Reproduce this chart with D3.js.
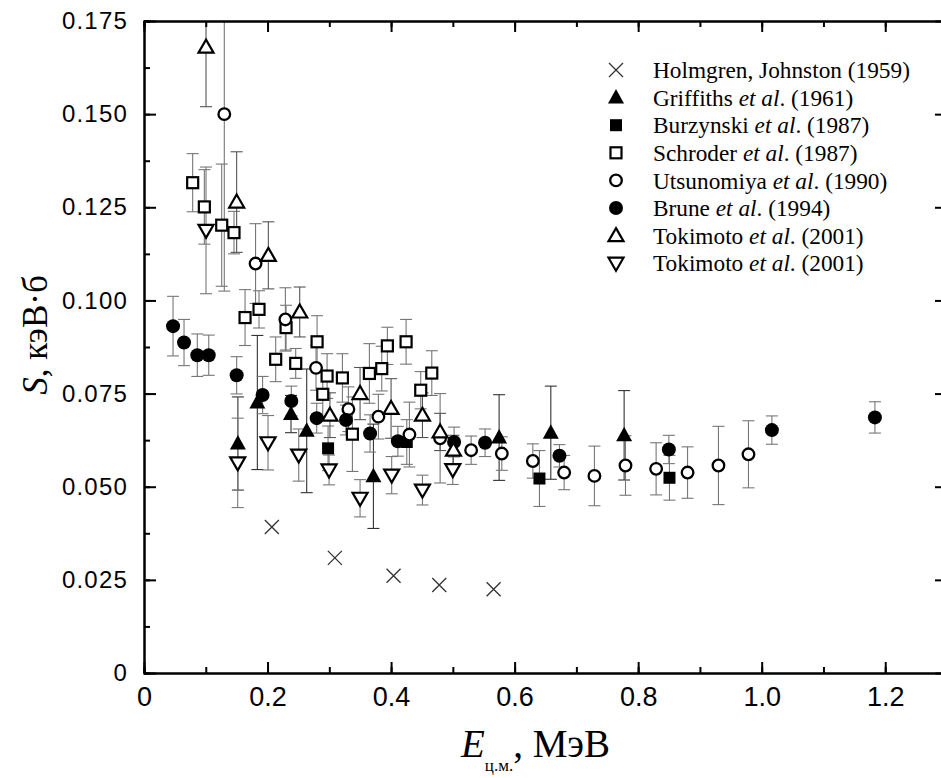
<!DOCTYPE html>
<html>
<head>
<meta charset="utf-8">
<script src="https://cdn.jsdelivr.net/npm/d3@7"></script>
<style>
  html, body { margin: 0; padding: 0; background: #fff; }
  svg { display: block; }
</style>
</head>
<body>
<svg id="chart" width="941" height="778"></svg>
<script>
// ---------------- DATA ----------------
const xTickValues = [0, 0.2, 0.4, 0.6, 0.8, 1.0, 1.2];
const xTickLabels = ["0", "0.2", "0.4", "0.6", "0.8", "1.0", "1.2"];
const yTickValues = [0, 0.025, 0.05, 0.075, 0.1, 0.125, 0.15, 0.175];
const yTickLabels = ["0", "0.025", "0.050", "0.075", "0.100", "0.125", "0.150", "0.175"];

// Holmgren, Johnston (1959) — crosses, no error bars
const holmgrenE = [0.207, 0.309, 0.404, 0.478, 0.566];
const holmgrenS = [0.0392, 0.0309, 0.0261, 0.0236, 0.0225];

// Griffiths et al. (1961) — filled up-triangles
const griffithsE   = [0.152, 0.1835, 0.238, 0.2634, 0.3714, 0.5749, 0.6586, 0.7773];
const griffithsS   = [0.0616, 0.0726, 0.0695, 0.065, 0.0528, 0.0632, 0.0645, 0.0638];
const griffithsErr = [0.0125, 0.018, 0.005, 0.0166, 0.014, 0.0115, 0.0125, 0.012];

// Burzynski et al. (1987) — filled squares
const burzynskiE   = [0.298, 0.4254, 0.6402, 0.8507];
const burzynskiS   = [0.0603, 0.062, 0.0522, 0.0524];
const burzynskiErr = [0.006, 0.006, 0.0075, 0.006];

// Schroder et al. (1987) — open squares
const schroderE   = [0.0788, 0.0977, 0.1258, 0.1457, 0.1636, 0.1862, 0.2132, 0.230, 0.2456, 0.2802,
                     0.2964, 0.2894, 0.3212, 0.3374, 0.3649, 0.3849, 0.394, 0.4243, 0.448, 0.4659];
const schroderS   = [0.1316, 0.1251, 0.1202, 0.1182, 0.0954, 0.0976, 0.0842, 0.0927, 0.0831, 0.0889,
                     0.0797, 0.0748, 0.0792, 0.0641, 0.0804, 0.0817, 0.0878, 0.0889, 0.0759, 0.0805];
const schroderErr = [0.0078, 0.010, 0.0164, 0.0057, 0.0075, 0.005, 0.006, 0.006, 0.004, 0.007,
                     0.006, 0.006, 0.0065, 0.010, 0.008, 0.006, 0.005, 0.006, 0.005, 0.006];

// Utsunomiya et al. (1990) — open circles
const utsunomiyaE   = [0.130, 0.1806, 0.2289, 0.2785, 0.3309, 0.3795, 0.4297, 0.4794, 0.5296, 0.5793,
                       0.6295, 0.6802, 0.7292, 0.7795, 0.8291, 0.880, 0.930, 0.9786];
const utsunomiyaS   = [0.150, 0.1099, 0.0949, 0.0819, 0.0708, 0.0688, 0.064, 0.063, 0.0598, 0.0589,
                       0.0569, 0.0538, 0.0529, 0.0557, 0.0548, 0.0538, 0.0557, 0.0587];
const utsunomiyaErr = [0.0475, 0.0107, 0.0085, 0.006, 0.006, 0.006, 0.0087, 0.012, 0.0038, 0.0045,
                       0.0046, 0.0046, 0.008, 0.008, 0.007, 0.0069, 0.0105, 0.009];

// Brune et al. (1994) — filled circles
const bruneE   = [0.047, 0.0648, 0.0863, 0.1048, 0.150, 0.192, 0.2385, 0.2796, 0.327, 0.366,
                  0.411, 0.502, 0.5522, 0.6726, 0.8497, 1.0165, 1.1833];
const bruneS   = [0.0931, 0.0887, 0.0853, 0.0853, 0.0799, 0.0746, 0.073, 0.0684, 0.0679, 0.0643,
                  0.0622, 0.062, 0.0618, 0.0583, 0.060, 0.0652, 0.0686];
const bruneErr = [0.008, 0.0062, 0.0057, 0.0054, 0.005, 0.005, 0.004, 0.004, 0.004, 0.005,
                  0.004, 0.004, 0.0037, 0.003, 0.0038, 0.0038, 0.0042];

// Tokimoto et al. (2001) — open up-triangles
const tokimotoUpE   = [0.1004, 0.150, 0.2013, 0.2521, 0.301, 0.3498, 0.400, 0.4508, 0.4794, 0.501];
const tokimotoUpS   = [0.168, 0.1264, 0.1121, 0.0969, 0.0692, 0.075, 0.071, 0.0692, 0.0647, 0.0598];
const tokimotoUpErr = [0.016, 0.0135, 0.009, 0.0067, 0.006, 0.007, 0.008, 0.006, 0.005, 0.004];

// Tokimoto et al. (2001) — open down-triangles
const tokimotoDnE   = [0.1004, 0.1517, 0.2008, 0.2505, 0.2996, 0.3498, 0.401, 0.4508, 0.4999];
const tokimotoDnS   = [0.1188, 0.0564, 0.0618, 0.0585, 0.0545, 0.0469, 0.0531, 0.0491, 0.0546];
const tokimotoDnErr = [0.017, 0.012, 0.0073, 0.007, 0.004, 0.005, 0.005, 0.004, 0.004];

const legendNames = [
  ["Holmgren, Johnston (1959)", "", ""],
  ["Griffiths ", "et al", ". (1961)"],
  ["Burzynski ", "et al", ". (1987)"],
  ["Schroder ", "et al", ". (1987)"],
  ["Utsunomiya ", "et al", ". (1990)"],
  ["Brune ", "et al", ". (1994)"],
  ["Tokimoto ", "et al", ". (2001)"],
  ["Tokimoto ", "et al", ". (2001)"]
];

// ---------------- CHART ----------------
const plot = { left: 144, top: 21, right: 947, bottom: 673 };
const svg = d3.select("#chart");

const x = d3.scaleLinear().domain([0, 1.3]).range([plot.left, plot.right]);
const y = d3.scaleLinear().domain([0, 0.175]).range([plot.bottom, plot.top]);

const zip = (E, S, err) => E.map((e, i) => ({ e, s: S[i], err: err ? err[i] : 0 }));

const series = [
  { data: zip(holmgrenE, holmgrenS, null), sym: "cross", bar: null },
  { data: zip(griffithsE, griffithsS, griffithsErr), sym: "triUpFilled", bar: "#333" },
  { data: zip(burzynskiE, burzynskiS, burzynskiErr), sym: "squareFilled", bar: "#777" },
  { data: zip(schroderE, schroderS, schroderErr), sym: "squareOpen", bar: "#777" },
  { data: zip(utsunomiyaE, utsunomiyaS, utsunomiyaErr), sym: "circleOpen", bar: "#777" },
  { data: zip(bruneE, bruneS, bruneErr), sym: "circleFilled", bar: "#777" },
  { data: zip(tokimotoUpE, tokimotoUpS, tokimotoUpErr), sym: "triUpOpen", bar: "#555" },
  { data: zip(tokimotoDnE, tokimotoDnS, tokimotoDnErr), sym: "triDnOpen", bar: "#777" }
];

svg.append("defs").append("clipPath").attr("id", "clip")
  .append("rect").attr("x", plot.left).attr("y", plot.top)
  .attr("width", plot.right - plot.left).attr("height", plot.bottom - plot.top);

function drawSymbol(g, type) {
  switch (type) {
    case "cross":
      g.append("path").attr("d", "M-7,-7L7,7M-7,7L7,-7")
        .attr("stroke", "#333").attr("stroke-width", 1.3).attr("fill", "none");
      break;
    case "triUpFilled":
      g.append("path").attr("d", "M0,-8.5L8,6L-8,6Z").attr("fill", "#000");
      break;
    case "triUpOpen":
      g.append("path").attr("d", "M0,-7.5L7.5,5.5L-7.5,5.5Z")
        .attr("fill", "#fff").attr("stroke", "#000").attr("stroke-width", 2.2);
      break;
    case "triDnOpen":
      g.append("path").attr("d", "M0,7.5L7.5,-5.5L-7.5,-5.5Z")
        .attr("fill", "#fff").attr("stroke", "#000").attr("stroke-width", 2.2);
      break;
    case "squareFilled":
      g.append("rect").attr("x", -6).attr("y", -6).attr("width", 12).attr("height", 12).attr("fill", "#000");
      break;
    case "squareOpen":
      g.append("rect").attr("x", -5.5).attr("y", -5.5).attr("width", 11).attr("height", 11)
        .attr("fill", "#fff").attr("stroke", "#000").attr("stroke-width", 2.2);
      break;
    case "circleOpen":
      g.append("circle").attr("r", 5.8)
        .attr("fill", "#fff").attr("stroke", "#000").attr("stroke-width", 2.3);
      break;
    case "circleFilled":
      g.append("circle").attr("r", 7).attr("fill", "#000");
      break;
  }
}

const plotG = svg.append("g").attr("clip-path", "url(#clip)");

// Error bars
series.forEach(sr => {
  if (!sr.bar) return;
  const g = plotG.append("g").attr("stroke", sr.bar).attr("stroke-width", 1.1).attr("fill", "none");
  sr.data.forEach(d => {
    const cx = x(d.e), y1 = y(d.s + d.err), y2 = y(d.s - d.err);
    g.append("line").attr("x1", cx).attr("x2", cx).attr("y1", y1).attr("y2", y2);
    g.append("line").attr("x1", cx - 6).attr("x2", cx + 6).attr("y1", y1).attr("y2", y1);
    g.append("line").attr("x1", cx - 6).attr("x2", cx + 6).attr("y1", y2).attr("y2", y2);
  });
});

// Markers
series.forEach(sr => {
  sr.data.forEach(d => {
    const g = plotG.append("g").attr("transform", `translate(${x(d.e)},${y(d.s)})`);
    drawSymbol(g, sr.sym);
  });
});

// Axes with inward ticks
const xMinor = d3.range(0, 1.31, 0.1).map(v => +v.toFixed(2));
const yMinor = d3.range(0, 0.176, 0.0125).map(v => +v.toFixed(4));

const axisStyle = sel => {
  sel.select(".domain").attr("stroke", "#000").attr("stroke-width", 2);
  sel.selectAll(".tick line").attr("stroke", "#000").attr("stroke-width", 2);
};

// bottom
svg.append("g").attr("transform", `translate(0,${plot.bottom})`)
  .call(d3.axisBottom(x).tickValues(xMinor).tickSize(-6).tickFormat(""))
  .call(axisStyle);
const xAx = svg.append("g").attr("transform", `translate(0,${plot.bottom})`)
  .call(d3.axisBottom(x).tickValues(xTickValues).tickSizeInner(-11).tickSizeOuter(0).tickPadding(14)
    .tickFormat((d, i) => xTickLabels[i]))
  .call(axisStyle);
xAx.selectAll("text").attr("font-family", "Liberation Sans, Arial, sans-serif")
  .attr("font-size", 27).attr("fill", "#000");
// top
svg.append("g").attr("transform", `translate(0,${plot.top})`)
  .call(d3.axisTop(x).tickValues(xMinor).tickSize(-6).tickFormat(""))
  .call(axisStyle);
svg.append("g").attr("transform", `translate(0,${plot.top})`)
  .call(d3.axisTop(x).tickValues(xTickValues).tickSizeInner(-11).tickSizeOuter(0).tickFormat(""))
  .call(axisStyle);
// left
svg.append("g").attr("transform", `translate(${plot.left},0)`)
  .call(d3.axisLeft(y).tickValues(yMinor).tickSize(-6).tickFormat(""))
  .call(axisStyle);
const yAx = svg.append("g").attr("transform", `translate(${plot.left},0)`)
  .call(d3.axisLeft(y).tickValues(yTickValues).tickSizeInner(-12).tickSizeOuter(0).tickPadding(16)
    .tickFormat((d, i) => yTickLabels[i]))
  .call(axisStyle);
yAx.selectAll("text").attr("font-family", "Liberation Sans, Arial, sans-serif")
  .attr("font-size", 24).attr("letter-spacing", 1.2).attr("fill", "#000");
// right
svg.append("g").attr("transform", `translate(${plot.right},0)`)
  .call(d3.axisRight(y).tickValues(yMinor).tickSize(-6).tickFormat(""))
  .call(axisStyle);
svg.append("g").attr("transform", `translate(${plot.right},0)`)
  .call(d3.axisRight(y).tickValues(yTickValues).tickSizeInner(-12).tickSizeOuter(0).tickFormat(""))
  .call(axisStyle);

// Axis titles
const serif = "Liberation Serif, Times New Roman, serif";
const xt = svg.append("text").attr("x", 461).attr("y", 757)
  .attr("font-family", serif).attr("font-size", 39).attr("fill", "#000");
xt.append("tspan").attr("font-style", "italic").text("E");
xt.append("tspan").attr("font-size", 17).attr("dy", 14).text("ц.м.");
xt.append("tspan").attr("dy", -14).text(", МэВ");

const yt = svg.append("text")
  .attr("transform", "translate(47,335) rotate(-90)")
  .attr("text-anchor", "middle")
  .attr("font-family", serif).attr("font-size", 35).attr("fill", "#000");
yt.append("tspan").attr("font-style", "italic").text("S");
yt.append("tspan").text(", кэВ·б");

// Legend
const legend = svg.append("g");
legendNames.forEach((nm, i) => {
  const cy = 70 + i * 27.6;
  const g = legend.append("g").attr("transform", `translate(616,${cy})`);
  drawSymbol(g, series[i].sym);
  const t = legend.append("text").attr("x", 653).attr("y", cy).attr("dy", "0.35em")
    .attr("font-family", serif).attr("font-size", 23.3).attr("fill", "#000");
  t.append("tspan").text(nm[0]);
  if (nm[1]) t.append("tspan").attr("font-style", "italic").text(nm[1]);
  if (nm[2]) t.append("tspan").text(nm[2]);
});
</script>
</body>
</html>
